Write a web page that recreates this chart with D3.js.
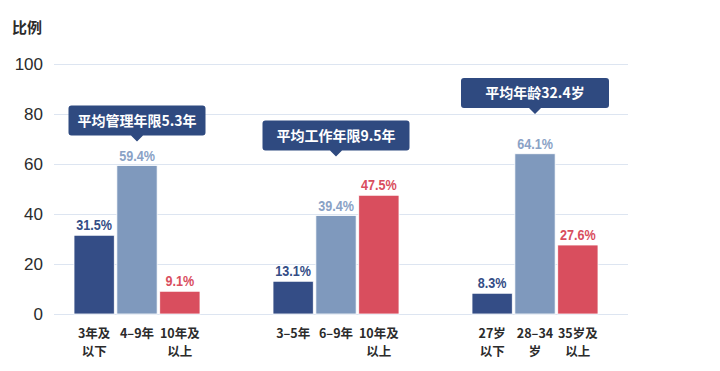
<!DOCTYPE html>
<html>
<head>
<meta charset="utf-8">
<script src="https://cdn.jsdelivr.net/npm/d3@7"></script>
<style>
  body { margin: 0; background: #fff; }
  svg { display: block; }
</style>
</head>
<body>
<svg id="chart" width="720" height="371"></svg>
<script>
// chart data
var groups = ["管理年限", "工作年限", "年龄"];
var categoryLabels = [
    [["3年及", "以下"], ["4–9年"], ["10年及", "以上"]],
    [["3–5年"], ["6–9年"], ["10年及", "以上"]],
    [["27岁", "以下"], ["28–34", "岁"], ["35岁及", "以上"]]
];
var seriesValues = [
    [31.5, 59.4, 9.1],
    [13.1, 39.4, 47.5],
    [8.3, 64.1, 27.6]
];
var callouts = ["平均管理年限5.3年", "平均工作年限9.5年", "平均年龄32.4岁"];
var yTicks = [0, 20, 40, 60, 80, 100];

// layout constants
var barColors = ["#344d86", "#7f99bd", "#d94e5e"];
var labelColors = ["#344d86", "#8aa2c6", "#d94e5e"];
var calloutLevel = [69, 63, 80];   // where the pointer tip sits, in axis units
var calloutWidth = [137, 147, 148];
var cjk = "'Noto Sans CJK SC', 'Noto Sans', sans-serif";

var svg = d3.select("#chart");

var y = d3.scaleLinear().domain([0, 100]).range([314, 64]);
var x0 = d3.scalePoint().domain(groups).range([137, 535]);
var x1 = d3.scaleBand().domain([0, 1, 2]).range([-63, 63]).paddingInner(0.06);

// gridlines
svg.append("g")
    .attr("transform", "translate(54,0)")
    .call(d3.axisLeft(y).tickValues(yTicks).tickSize(-574).tickFormat(""))
    .call(function(g) {
        g.select(".domain").remove();
        g.selectAll(".tick line").attr("stroke", "#dde5f1").attr("stroke-width", 1.2);
    });

// y tick labels
svg.append("g").selectAll("text")
    .data(yTicks)
    .enter().append("text")
    .attr("x", 43)
    .attr("y", function(d) { return y(d); })
    .attr("dy", "0.36em")
    .attr("text-anchor", "end")
    .attr("fill", "#2b2b2b")
    .style("font-family", "'Liberation Sans', Arial, sans-serif")
    .style("font-size", "17px")
    .text(function(d) { return d; });

svg.append("text")
    .attr("x", 12)
    .attr("y", 33)
    .attr("fill", "#2b2b2b")
    .style("font-family", cjk)
    .style("font-weight", "bold")
    .style("font-size", "15px")
    .text("比例");

// bars
var group = svg.selectAll("g.group")
    .data(groups)
    .enter().append("g")
    .attr("class", "group")
    .attr("transform", function(d) { return "translate(" + x0(d) + ",0)"; });

var bar = group.selectAll("g.bar")
    .data(function(d, gi) {
        return seriesValues[gi].map(function(v, i) {
            return {value: v, i: i, lines: categoryLabels[gi][i]};
        });
    })
    .enter().append("g")
    .attr("class", "bar");

bar.append("rect")
    .attr("x", function(d) { return x1(d.i); })
    .attr("width", x1.bandwidth())
    .attr("y", function(d) { return y(d.value); })
    .attr("height", function(d) { return y(0) - y(d.value); })
    .attr("fill", function(d) { return barColors[d.i]; })
    .attr("stroke", "#fff")
    .attr("stroke-width", 0.8);

// value labels, squeezed to look condensed
bar.append("text")
    .attr("x", function(d) { return x1(d.i) + x1.bandwidth() / 2; })
    .attr("y", function(d) { return y(d.value) - 5; })
    .attr("text-anchor", "middle")
    .attr("fill", function(d) { return labelColors[d.i]; })
    .style("font-family", "'Liberation Sans', Arial, sans-serif")
    .style("font-weight", "bold")
    .style("font-size", "15px")
    .text(function(d) { return d.value.toFixed(1) + "%"; })
    .each(function() {
        var w = this.getComputedTextLength();
        d3.select(this).attr("textLength", w * 0.84).attr("lengthAdjust", "spacingAndGlyphs");
    });

// category labels, one or two lines each
bar.each(function(d) {
    var cx = x1(d.i) + x1.bandwidth() / 2;
    d3.select(this).selectAll("text.cat")
        .data(d.lines)
        .enter().append("text")
        .attr("class", "cat")
        .attr("x", cx)
        .attr("y", function(t, i) { return 338 + i * 18; })
        .attr("text-anchor", "middle")
        .attr("fill", "#2b2b2b")
        .style("font-family", cjk)
        .style("font-weight", "bold")
        .style("font-size", "12.5px")
        .text(function(t) { return t; });
});

// callout boxes
var callout = group.append("g")
    .attr("transform", function(d, gi) { return "translate(0," + y(calloutLevel[gi]) + ")"; });

callout.append("path")
    .attr("d", function(d, gi) {
        var w = calloutWidth[gi], h = 30, r = 3;
        return "M" + (-w / 2 + r) + "," + (-h - 6) +
            "H" + (w / 2 - r) + "Q" + (w / 2) + "," + (-h - 6) + " " + (w / 2) + "," + (-h - 6 + r) +
            "V" + (-6 - r) + "Q" + (w / 2) + ",-6 " + (w / 2 - r) + ",-6" +
            "H6L0,0L-6,-6" +
            "H" + (-w / 2 + r) + "Q" + (-w / 2) + ",-6 " + (-w / 2) + "," + (-6 - r) +
            "V" + (-h - 6 + r) + "Q" + (-w / 2) + "," + (-h - 6) + " " + (-w / 2 + r) + "," + (-h - 6) + "Z";
    })
    .attr("fill", "#2f4a80");

callout.append("text")
    .attr("y", -21)
    .attr("dy", "0.36em")
    .attr("text-anchor", "middle")
    .attr("fill", "#fff")
    .style("font-family", cjk)
    .style("font-weight", "bold")
    .style("font-size", "14px")
    .text(function(d, gi) { return callouts[gi]; });
</script>
</body>
</html>
